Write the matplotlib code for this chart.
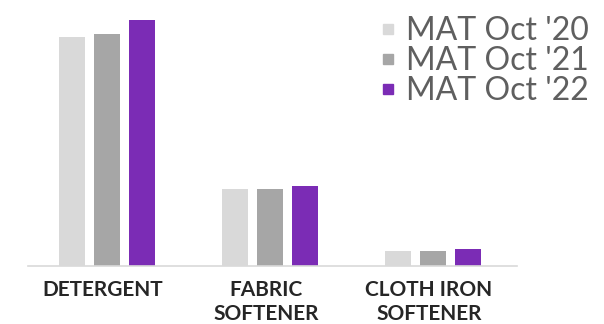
import numpy as np
import matplotlib
matplotlib.use('Agg')
import matplotlib.pyplot as plt
from matplotlib.lines import Line2D

# Categories and yearly values (relative volume)
categories = ['DETERGENT', 'FABRIC\nSOFTENER', 'CLOTH IRON\nSOFTENER']
series_names = ["MAT Oct '20", "MAT Oct '21", "MAT Oct '22"]
mat_oct_20 = [229, 77, 15]
mat_oct_21 = [232, 77, 15]
mat_oct_22 = [246, 80, 17]
colors = ['#d9d9d9', '#a6a6a6', '#7b2cb5']

values = [mat_oct_20, mat_oct_21, mat_oct_22]

fig = plt.figure(figsize=(6.04, 3.24), dpi=100)
ax = fig.add_axes([28 / 604, 58 / 324, 489 / 604, 250 / 324])

x = np.arange(len(categories))
width = 0.16
step = 0.215
for i, (vals, col) in enumerate(zip(values, colors)):
    ax.bar(x + (i - 1) * step - 0.015, vals, width=width, color=col, label=series_names[i])

ax.set_xlim(-0.5, 2.5)
ax.set_ylim(0, 250)
for s in ['top', 'left', 'right']:
    ax.spines[s].set_visible(False)
ax.spines['bottom'].set_color('#d9d9d9')
ax.spines['bottom'].set_linewidth(1.2)
ax.set_yticks([])
ax.set_xticks(x - 0.04)
ax.set_xticklabels(categories, fontfamily='Lato', fontweight='bold', fontsize=15,
                   color='#262626', linespacing=1.25)
ax.tick_params(axis='x', length=0, pad=10)

handles = [Line2D([0], [0], marker='s', linestyle='none', markersize=7,
                  markerfacecolor=c, markeredgecolor=c) for c in colors]
fig.legend(handles, series_names, loc='upper left', bbox_to_anchor=(364 / 604, 1.0),
           frameon=False, prop={'family': 'Lato', 'size': 23}, labelcolor='#5f5f5f',
           handlelength=0.5, handletextpad=0.3, labelspacing=0.0, borderpad=0)

fig.savefig('out.png', dpi=100)
